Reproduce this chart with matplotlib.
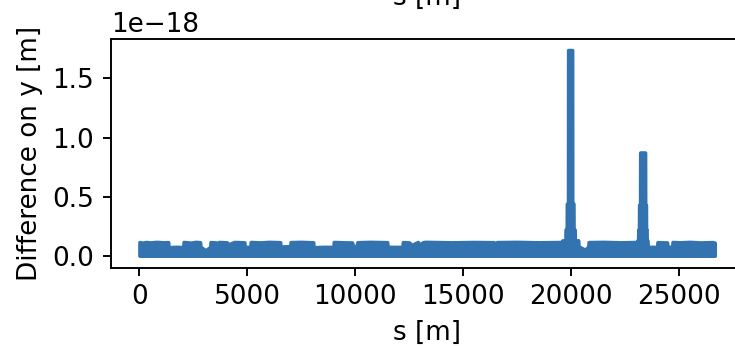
import matplotlib.pyplot as plt
import numpy as np

# upper envelope of the y-difference band (units of 1e-18 m) along s [m]
s_env = [0, 150, 300, 500, 800, 1100, 1330,
         1345, 1700, 2030,
         2045, 2400, 2600, 2810,
         2825, 3060, 3280,
         3295, 3550, 3610, 3680, 4050, 4100, 4400, 4860,
         4875, 5140,
         5155, 5600, 6000, 6520,
         6535, 6990,
         7005, 7500, 8050,
         8065, 8600, 8990,
         9005, 9500, 9850, 9920, 10000, 10100, 10700, 11480,
         11495, 12190,
         12205, 12500, 12600, 12900, 12950, 13160, 13250, 14500, 15500, 16420, 16490, 16560,
         17500, 18500, 19590,
         19600, 19740, 19745, 19800, 19805, 19860, 19865, 20050, 20055, 20110, 20115,
         20170, 20175, 20330,
         20345, 20650, 20800,
         20815, 21500, 22300, 23060,
         23075, 23110, 23115, 23150, 23155, 23200, 23205, 23430, 23435, 23470, 23475,
         23500, 23505, 23540,
         23555, 23990,
         24005, 24450,
         24465, 24690,
         24705, 25050, 25500, 26000, 26540, 26659]
top_env = [0.115, 0.110, 0.116, 0.112, 0.117, 0.113, 0.115,
           0.072, 0.075, 0.073,
           0.116, 0.110, 0.117, 0.114,
           0.076, 0.045, 0.075,
           0.115, 0.112, 0.090, 0.116, 0.113, 0.095, 0.116, 0.113,
           0.074, 0.075,
           0.116, 0.112, 0.117, 0.114,
           0.078, 0.080,
           0.115, 0.117, 0.113,
           0.072, 0.075, 0.074,
           0.116, 0.113, 0.112, 0.070, 0.045, 0.114, 0.117, 0.114,
           0.075, 0.074,
           0.115, 0.112, 0.090, 0.116, 0.095, 0.115, 0.117, 0.113, 0.116, 0.114, 0.070, 0.115,
           0.117, 0.113, 0.116,
           0.130, 0.130, 0.220, 0.220, 0.440, 0.440, 1.740, 1.740, 0.440, 0.440, 0.220,
           0.220, 0.130, 0.130,
           0.080, 0.050, 0.078,
           0.115, 0.117, 0.113, 0.116,
           0.130, 0.130, 0.220, 0.220, 0.430, 0.430, 0.873, 0.873, 0.430, 0.430, 0.220,
           0.220, 0.130, 0.130,
           0.075, 0.074,
           0.114, 0.112,
           0.076, 0.075,
           0.116, 0.113, 0.117, 0.112, 0.115, 0.110]

plt.rcParams['font.size'] = 11

s = np.array(s_env)
top = np.array(top_env) * 1e-18

fig = plt.figure(figsize=(736 / 172, 346 / 172), dpi=172)
ax = fig.add_axes([0.1504, 0.2263, 0.8598, 0.6601])

ax.fill_between(s, 0, top, color='#3273b0', lw=1.5, edgecolor='#3273b0')

ax.set_xlim(-1333, 27992)
ax.set_ylim(-0.1015e-18, 1.831e-18)
ax.set_xticks([0, 5000, 10000, 15000, 20000, 25000])
ax.set_yticks(np.array([0.0, 0.5, 1.0, 1.5]) * 1e-18)
ax.set_xlabel('s [m]')
ax.set_ylabel('Difference on y [m]')

# xlabel of the subplot above, cut off by the top edge
fig.text(0.5803, 1 - 5 / 346, 's [m]', ha='center', va='baseline')

fig.savefig('out.png', dpi=172)
